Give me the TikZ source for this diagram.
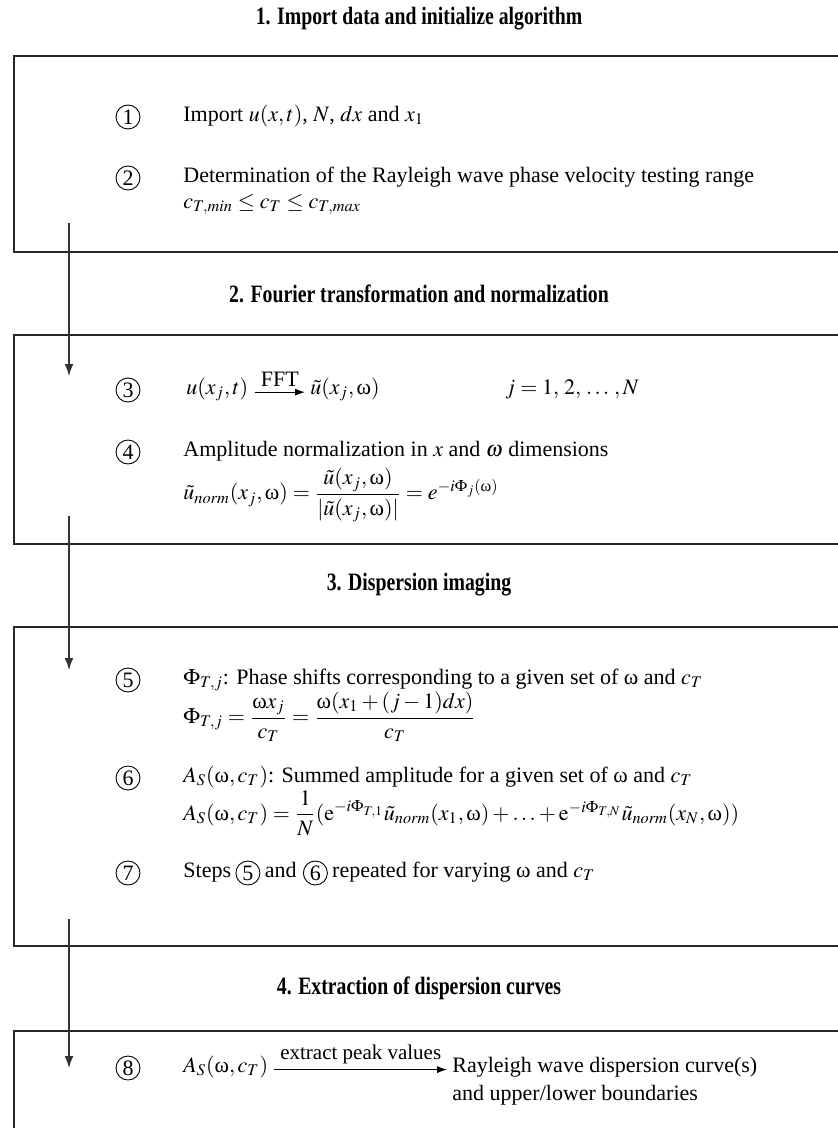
\documentclass[tikz,border=0pt]{standalone}
\usepackage{amsmath}
\usepackage{mathptmx}
\usepackage[no-math]{fontspec}
\setmainfont{Liberation Serif}
\newfontfamily\ttlfont[FakeStretch=0.79]{Liberation Serif}
\usetikzlibrary{arrows.meta,positioning}
\newcommand\uom{\text{ω}}
\begin{document}
\begin{tikzpicture}[x=0.5pt,y=-0.5pt,
  every node/.style={inner sep=0pt,font=\fontsize{11pt}{13pt}\selectfont},
  ttl/.style={font=\ttlfont\bfseries\fontsize{12.5pt}{14pt}\selectfont},
  lbl/.style={font=\fontsize{10.5pt}{12pt}\selectfont},
  boxline/.style={line width=0.9pt,draw=black!85},
  flow/.style={line width=0.55pt,draw=black!80,-{Latex[length=6pt,width=4.4pt]}},
  inarrow/.style={line width=0.65pt,-{Latex[length=5pt,width=3.6pt]}},
  num/.style={circle,draw,line width=0.45pt,minimum size=12pt,inner sep=0pt},
  txt/.style={anchor=mid west},
]
\useasboundingbox (0,0) rectangle (838,1128);
\fill[white] (0,0) rectangle (838,1128);

% titles
\node[ttl] (t1) at (419,19) {1. Import data and initialize algorithm};
\node[ttl] (t2) at (419,294) {2. Fourier transformation and normalization};
\node[ttl] (t3) at (419,585) {3. Dispersion imaging};
\node[ttl] (t4) at (419,988) {4. Extraction of dispersion curves};

% boxes
\draw[boxline] (845,56) -- (14,56) -- (14,252) -- (845,252);
\draw[boxline] (845,335) -- (14,335) -- (14,544) -- (845,544);
\draw[boxline] (845,627) -- (14,627) -- (14,946) -- (845,946);
\draw[boxline] (845,1031) -- (14,1031) -- (14,1135);

% flow arrows
\coordinate (f1a) at (69,223); \coordinate (f1b) at (69,376);
\coordinate (f2a) at (69,516); \coordinate (f2b) at (69,670);
\coordinate (f3a) at (69,919); \coordinate (f3b) at (69,1068);
\draw[flow] (f1a) -- (f1b);
\draw[flow] (f2a) -- (f2b);
\draw[flow] (f3a) -- (f3b);

% step 1
\node[num] (n1) at (128,117) {1};
\node[txt] (s1) at (183,117) {Import $u(x,t)$, $N$, $dx$ and $x_1$};
% step 2
\node[num] (n2) at (128,178) {2};
\node[txt] (s2) at (183,178) {Determination of the Rayleigh wave phase velocity testing range};
\node[txt] (s2b) at (183,204) {$c_{T,\mathit{min}}\le c_T\le c_{T,\mathit{max}}$};
% step 3
\node[num] (n3) at (128,390) {3};
\node[txt] (s3a) at (186,390) {$u(x_j,t)$};
\node[txt] (s3b) at (310,390) {$\tilde u(x_j,\uom)$};
\draw[inarrow] ([xshift=3pt,yshift=1.2pt]s3a.base east) -- node[above=2.5pt]{FFT} ([xshift=-2.5pt,yshift=1.2pt]s3b.base west);
\node[txt] (s3c) at (505,390) {$j=1,\,2,\,\ldots\,,N$};
% step 4
\node[num] (n4) at (128,452) {4};
\node[txt] (s4) at (183,452) {Amplitude normalization in $x$ and $\omega$ dimensions};
\node[anchor=west] (s4b) at (183,495) {$\tilde u_{\mathit{norm}}(x_j,\uom)=\dfrac{\tilde u(x_j,\uom)}{|\tilde u(x_j,\uom)|}=e^{-i\Phi_j(\uom)}$};
% step 5
\node[num] (n5) at (128,680) {5};
\node[txt] (s5) at (183,680) {$\Phi_{T,j}$: Phase shifts corresponding to a given set of ω and $c_T$};
\node[anchor=west] (s5b) at (183,717) {$\Phi_{T,j}=\dfrac{\uom x_j}{c_T}=\dfrac{\uom(x_1+(j-1)dx)}{c_T}$};
% step 6
\node[num] (n6) at (128,778) {6};
\node[txt] (s6) at (183,778) {$A_S(\uom,c_T)$: Summed amplitude for a given set of ω and $c_T$};
\node[anchor=west] (s6b) at (183,813) {$A_S(\uom,c_T)=\dfrac{1}{N}(\mathrm{e}^{-i\Phi_{T,1}}\tilde u_{\mathit{norm}}(x_1,\uom)+\ldots+\mathrm{e}^{-i\Phi_{T,N}}\tilde u_{\mathit{norm}}(x_N,\uom))$};
% step 7
\node[num] (n7) at (128,873) {7};
\node[txt] (s7a) at (183,873) {Steps};
\node[num,anchor=west] (s7n5) at ([xshift=2pt]s7a.mid east) {5};
\node[anchor=base west] (s7b) at ([xshift=2pt]s7n5.east |- s7a.base) {and};
\node[num,anchor=west] (s7n6) at ([xshift=3pt]s7b.east |- s7n5) {6};
\node[anchor=base west] (s7c) at ([xshift=2pt]s7n6.east |- s7a.base) {repeated for varying ω and $c_T$};
% step 8
\node[num] (n8) at (128,1068) {8};
\node[txt] (s8a) at (183,1068) {$A_S(\uom,c_T)$};
\node[txt] (s8b) at (452,1068) {Rayleigh wave dispersion curve(s)};
\node[anchor=base west] (s8c) at ([yshift=-14pt]s8b.base west) {and upper/lower boundaries};
\draw[inarrow] ([xshift=3pt,yshift=1.5pt]s8a.base east) -- node[above=2.5pt,lbl]{extract peak values} ([xshift=-2.5pt,yshift=1.5pt]s8b.base west);
\end{tikzpicture}
\end{document}
